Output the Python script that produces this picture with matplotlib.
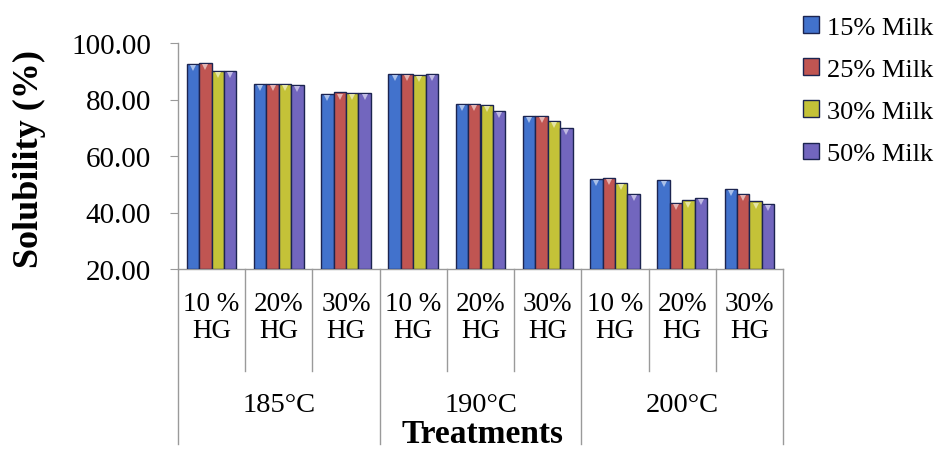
import matplotlib
matplotlib.use("Agg")
import matplotlib.pyplot as plt
from matplotlib.transforms import blended_transform_factory
import matplotlib.colors as mcolors
import numpy as np

plt.rcParams['font.family'] = ['Liberation Serif', 'DejaVu Serif']

# Treatment categories: HG level within each temperature
hg_labels = ["10 %\nHG", "20%\nHG", "30%\nHG",
             "10 %\nHG", "20%\nHG", "30%\nHG",
             "10 %\nHG", "20%\nHG", "30%\nHG"]
temperatures = ["185°C", "190°C", "200°C"]

series_names = ["15% Milk", "25% Milk", "30% Milk", "50% Milk"]
milk_15 = [92.5, 85.5, 82.0, 89.0, 78.5, 74.3, 51.9, 51.6, 48.4]
milk_25 = [93.0, 85.5, 82.5, 89.0, 78.5, 74.3, 52.2, 43.5, 46.6]
milk_30 = [90.0, 85.6, 82.3, 88.8, 78.0, 72.5, 50.5, 44.3, 43.9]
milk_50 = [90.2, 85.3, 82.3, 89.0, 76.0, 70.0, 46.6, 45.1, 43.1]
series_values = [milk_15, milk_25, milk_30, milk_50]

y_ticks = [20, 40, 60, 80, 100]

colors = ["#4272CC", "#C05552", "#C4C238", "#7266BE"]
edge = "#1C2450"
sep_color = "#9A9A9A"

W, H = 940, 456
fig = plt.figure(figsize=(W / 100, H / 100), dpi=100)
ax = fig.add_axes([178 / W, 1 - 270 / H, (783 - 178) / W, (270 - 44) / H])

n_cat = len(hg_labels)
x = np.arange(n_cat)
bar_w = 0.185
offsets = (np.arange(4) - 1.5) * bar_w

bars = []
for i, (vals, c) in enumerate(zip(series_values, colors)):
    vals = np.array(vals)
    b = ax.bar(x + offsets[i], vals - 20, width=bar_w, bottom=20,
               color=c, edgecolor=edge, linewidth=1.0, label=series_names[i],
               zorder=3)
    bars.append(b)
    # light bevel highlight just below the top of each column
    light = mcolors.to_rgb(c)
    light = tuple(0.45 * v + 0.55 for v in light)
    ax.plot(x + offsets[i], vals - 1.5, linestyle="none", marker="v",
            markersize=4.5, color=light, markeredgewidth=0, zorder=4)

ax.set_xlim(-0.5, n_cat - 0.5)
ax.set_ylim(20, 100)
ax.set_yticks(y_ticks)
ax.set_yticklabels([f"{v:.2f}" for v in y_ticks], fontsize=21)
ax.set_xticks([])

for s in ["top", "right"]:
    ax.spines[s].set_visible(False)
for s in ["left", "bottom"]:
    ax.spines[s].set_color(sep_color)
    ax.spines[s].set_linewidth(1.0)
ax.tick_params(axis="y", direction="out", length=5.8, color=sep_color,
               pad=13.5)

# Category axis: HG labels, temperature groups and separator lines
tr = blended_transform_factory(ax.transData, fig.transFigure)
for i, lab in enumerate(hg_labels):
    ax.text(i, 1 - 318 / H, lab, transform=tr, ha="center", va="center",
            fontsize=19.5, linespacing=1.15)
for g, t in enumerate(temperatures):
    ax.text(3 * g + 1, 1 - 405 / H, t, transform=tr, ha="center",
            va="center", fontsize=20.5)

for b in np.arange(-0.5, n_cat, 1.0):
    long_line = abs(((b + 0.5) % 3)) < 1e-9
    y_end = 1 - 445 / H if long_line else 1 - 372 / H
    ax.plot([b, b], [1 - 270 / H, y_end], transform=tr, color=sep_color,
            linewidth=1.0, clip_on=False)

fig.text(482 / W, 1 - 435 / H, "Treatments", ha="center", va="center",
         fontsize=24, fontweight="bold")
fig.text(29 / W, 1 - 159 / H, "Solubility (%)", ha="center", va="center",
         rotation=90, fontsize=26, fontweight="bold")

leg = fig.legend(handles=bars, labels=series_names, loc="upper left",
                 bbox_to_anchor=(803 / W, 1 - 17 / H), frameon=False,
                 fontsize=19, handlelength=0.6, handleheight=0.6,
                 handletextpad=0.3, labelspacing=0.74, borderaxespad=0,
                 borderpad=0)

fig.savefig("out.png", dpi=100)
